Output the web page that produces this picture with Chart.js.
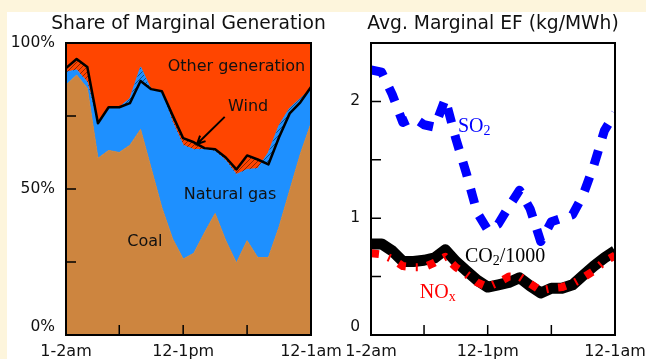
<!DOCTYPE html>
<html>
<head>
<meta charset="utf-8">
<script src="https://cdn.jsdelivr.net/npm/chart.js@4.4.1/dist/chart.umd.min.js"></script>
<style>
  html, body { margin: 0; padding: 0; background: #fdf5dc; }
  body { width: 646px; height: 359px; position: relative; overflow: hidden; }
  .panel { position: absolute; left: 7px; top: 12px; width: 639px; height: 347px; background: #fff; }
  .panel canvas { position: absolute; left: 0; top: 0; }
</style>
</head>
<body>
<div class="panel">
  <canvas id="chartShare" width="639" height="347"></canvas>
  <canvas id="chartEF" width="639" height="347"></canvas>
</div>
<script>
// hour of day (24 slots)
const hours = ['1-2am', '2-3am', '3-4am', '4-5am', '5-6am', '6-7am', '7-8am', '8-9am', '9-10am', '10-11am',
  '11am-12pm', '12-1pm', '1-2pm', '2-3pm', '3-4pm', '4-5pm', '5-6pm', '6-7pm', '7-8pm', '8-9pm',
  '9-10pm', '10-11pm', '11pm-12am', '12-1am'];

// share of marginal generation, %
const coalShare = [85.6, 89.0, 84.5, 60.5, 63.2, 62.5, 65.0, 70.4, 57.0, 43.6, 33.0, 26.0,
  28.0, 35.0, 41.6, 32.3, 24.7, 32.3, 26.5, 26.5, 37.0, 49.5, 62.0, 72.5];
const gasShare = [4.4, 1.8, 2.1, 12.3, 14.8, 15.5, 16.0, 21.4, 27.0, 39.9, 40.0, 39.0,
  35.5, 28.6, 21.4, 27.5, 30.3, 24.4, 30.5, 36.0, 34.8, 28.2, 19.0, 12.0];
// coal + gas + wind (black boundary), the wind band is hatched against the gas top
const withWind = [91.4, 94.5, 91.8, 72.5, 78.0, 78.0, 79.4, 87.0, 84.2, 83.5, 75.3, 67.4,
  66.0, 64.0, 63.6, 60.8, 56.7, 61.5, 60.1, 58.4, 67.7, 75.9, 79.7, 84.9];
const otherShare = coalShare.map((c, i) => +(100 - c - gasShare[i]).toFixed(1));

// average marginal emission factors, kg/MWh
const so2 = [2.27, 2.25, 2.06, 1.82, 1.86, 1.80, 1.78, 2.02, 1.68, 1.38, 1.05, 0.90,
  0.95, 1.10, 1.24, 1.08, 0.80, 0.97, 1.00, 1.03, 1.20, 1.45, 1.75, 1.90];
const co2Thousandths = [0.78, 0.78, 0.72, 0.63, 0.63, 0.64, 0.66, 0.73, 0.63, 0.55, 0.47, 0.41,
  0.43, 0.45, 0.49, 0.42, 0.36, 0.40, 0.40, 0.43, 0.51, 0.59, 0.66, 0.72];
const nox = [0.70, 0.69, 0.65, 0.59, 0.58, 0.58, 0.62, 0.67, 0.58, 0.52, 0.45, 0.41,
  0.45, 0.50, 0.50, 0.44, 0.38, 0.40, 0.41, 0.44, 0.49, 0.55, 0.63, 0.68];

// tick positions (category index) and labelled ticks
const hourTicks = [5, 11, 17];
const hourLabels = [0, 11, 23];
const shareTicks = [25, 50, 75];
const shareLabels = [0, 50, 100];
const efTicks = [0.5, 1, 1.5, 2];
const efLabels = [0, 1, 2];

const SANS = '"DejaVu Sans", sans-serif';
const SERIF = '"Liberation Serif", "DejaVu Serif", serif';

// diagonal hatch for the wind band
function hatchPattern() {
  const c = document.createElement('canvas');
  c.width = c.height = 5;
  const g = c.getContext('2d');
  g.strokeStyle = 'rgba(0,0,0,0.45)';
  g.lineWidth = 1;
  g.beginPath();
  g.moveTo(0, 5); g.lineTo(5, 0);
  g.moveTo(-1, 1); g.lineTo(1, -1);
  g.moveTo(4, 6); g.lineTo(6, 4);
  g.stroke();
  return g.createPattern(c, 'repeat');
}

// text made of pieces, pieces flagged as subscript are drawn smaller and lower
function drawRich(ctx, parts, x, y, size, color) {
  ctx.fillStyle = color;
  ctx.textAlign = 'left';
  ctx.textBaseline = 'middle';
  let cx = x;
  parts.forEach(([t, sub]) => {
    const s = sub ? size * 0.7 : size;
    ctx.font = s + 'px ' + SERIF;
    ctx.fillText(t, cx, sub ? y + size * 0.22 : y);
    cx += ctx.measureText(t).width;
  });
}

// matplotlib-like box: title, frame, inward ticks, tick labels and in-plot notes
function framePlugin(cfg) {
  return {
    id: 'frame',
    afterDraw(chart) {
      const { ctx, chartArea: a, scales: { x, y } } = chart;
      ctx.save();
      ctx.fillStyle = '#111';
      ctx.font = '18.7px ' + SANS;
      ctx.textAlign = 'center';
      ctx.textBaseline = 'alphabetic';
      ctx.fillText(cfg.title, (a.left + a.right) / 2, a.top - 14);

      ctx.strokeStyle = '#000';
      ctx.lineWidth = 1.5;
      ctx.beginPath();
      hourTicks.forEach(i => {
        const px = x.getPixelForValue(i);
        ctx.moveTo(px, a.bottom); ctx.lineTo(px, a.bottom - 10);
      });
      cfg.yTicks.forEach(v => {
        const py = y.getPixelForValue(v);
        ctx.moveTo(a.left, py); ctx.lineTo(a.left + 10, py);
      });
      ctx.stroke();
      ctx.lineWidth = 2;
      ctx.strokeRect(a.left, a.top, a.right - a.left, a.bottom - a.top);

      ctx.font = '16px ' + SANS;
      hourLabels.forEach(i => ctx.fillText(hours[i], x.getPixelForValue(i), a.bottom + 21));
      ctx.font = '15.5px ' + SANS;
      ctx.textAlign = 'right';
      ctx.textBaseline = 'middle';
      cfg.yLabels.forEach(v => {
        const py = y.getPixelForValue(v) - (v === y.min ? 8 : 0);
        ctx.fillText(cfg.fmt(v), a.left - 11, py);
      });

      if (cfg.notes) cfg.notes(ctx, x, y);
      ctx.restore();
    }
  };
}

Chart.defaults.font.family = SANS;
Chart.defaults.animation = false;

// --- SHARE OF MARGINAL GENERATION ---
new Chart(document.getElementById('chartShare'), {
  type: 'line',
  data: {
    labels: hours,
    datasets: [
      { label: 'Wind', data: withWind, stack: 'wind', borderColor: '#000', borderWidth: 2.5,
        fill: { target: 2 }, backgroundColor: hatchPattern() },
      { label: 'Coal', data: coalShare, stack: 'gen', fill: 'origin',
        backgroundColor: '#cd853f', borderColor: '#cd853f', borderWidth: 1 },
      { label: 'Natural gas', data: gasShare, stack: 'gen', fill: '-1',
        backgroundColor: '#1e90ff', borderColor: '#1e90ff', borderWidth: 1 },
      { label: 'Other generation', data: otherShare, stack: 'gen', fill: '-1',
        backgroundColor: '#ff4500', borderColor: '#ff4500', borderWidth: 1 }
    ]
  },
  options: {
    responsive: false,
    layout: { padding: { left: 59, right: 335, top: 31, bottom: 24 } },
    elements: { point: { radius: 0 }, line: { tension: 0, borderJoinStyle: 'round' } },
    datasets: { line: { clip: 0 } },
    scales: {
      x: { display: false },
      y: { display: false, stacked: true, min: 0, max: 100 }
    },
    plugins: {
      legend: { display: false },
      tooltip: { enabled: false },
      title: { display: false }
    }
  },
  plugins: [framePlugin({
    title: 'Share of Marginal Generation',
    yTicks: shareTicks, yLabels: shareLabels, fmt: v => v + '%',
    notes(ctx, x, y) {
      ctx.fillStyle = '#111';
      ctx.font = '16px ' + SANS;
      ctx.textAlign = 'center';
      ctx.textBaseline = 'middle';
      ctx.fillText('Other generation', x.getPixelForValue(16), y.getPixelForValue(91.8));
      ctx.fillText('Wind', x.getPixelForValue(17.1), y.getPixelForValue(78));
      ctx.fillText('Natural gas', x.getPixelForValue(15.4), y.getPixelForValue(48));
      ctx.fillText('Coal', x.getPixelForValue(7.4), y.getPixelForValue(31.8));
      // arrow from the Wind note to the hatched band
      const x0 = x.getPixelForValue(14.9), y0 = y.getPixelForValue(74.7);
      const x1 = x.getPixelForValue(12.3), y1 = y.getPixelForValue(65.4);
      const ang = Math.atan2(y1 - y0, x1 - x0);
      ctx.strokeStyle = '#000';
      ctx.lineWidth = 2;
      ctx.beginPath();
      ctx.moveTo(x0, y0); ctx.lineTo(x1, y1);
      ctx.moveTo(x1 - 9 * Math.cos(ang - 0.45), y1 - 9 * Math.sin(ang - 0.45));
      ctx.lineTo(x1, y1);
      ctx.lineTo(x1 - 9 * Math.cos(ang + 0.45), y1 - 9 * Math.sin(ang + 0.45));
      ctx.stroke();
    }
  })]
});

// --- AVERAGE MARGINAL EMISSION FACTORS ---
new Chart(document.getElementById('chartEF'), {
  type: 'line',
  data: {
    labels: hours,
    datasets: [
      { label: 'NOx', data: nox, borderColor: '#ff0000', borderWidth: 8, borderDash: [8, 10, 2, 10] },
      { label: 'CO2/1000', data: co2Thousandths, borderColor: '#000', borderWidth: 11 },
      { label: 'SO2', data: so2, borderColor: '#0000ff', borderWidth: 9, borderDash: [15, 13] }
    ]
  },
  options: {
    responsive: false,
    layout: { padding: { left: 364, right: 31, top: 31, bottom: 24 } },
    elements: { point: { radius: 0 }, line: { tension: 0, borderJoinStyle: 'round', borderCapStyle: 'butt' } },
    datasets: { line: { clip: 0, fill: false } },
    scales: {
      x: { display: false },
      y: { display: false, min: 0, max: 2.5 }
    },
    plugins: {
      legend: { display: false },
      tooltip: { enabled: false },
      title: { display: false }
    }
  },
  plugins: [framePlugin({
    title: 'Avg. Marginal EF (kg/MWh)',
    yTicks: efTicks, yLabels: efLabels, fmt: v => String(v),
    notes(ctx, x, y) {
      drawRich(ctx, [['SO', 0], ['2', 1]], x.getPixelForValue(8.2), y.getPixelForValue(1.78), 20, '#0000ff');
      drawRich(ctx, [['CO', 0], ['2', 1], ['/1000', 0]], x.getPixelForValue(8.86), y.getPixelForValue(0.67), 20, '#000');
      drawRich(ctx, [['NO', 0], ['x', 1]], x.getPixelForValue(4.6), y.getPixelForValue(0.36), 20, '#ff0000');
    }
  })]
});
</script>
</body>
</html>
